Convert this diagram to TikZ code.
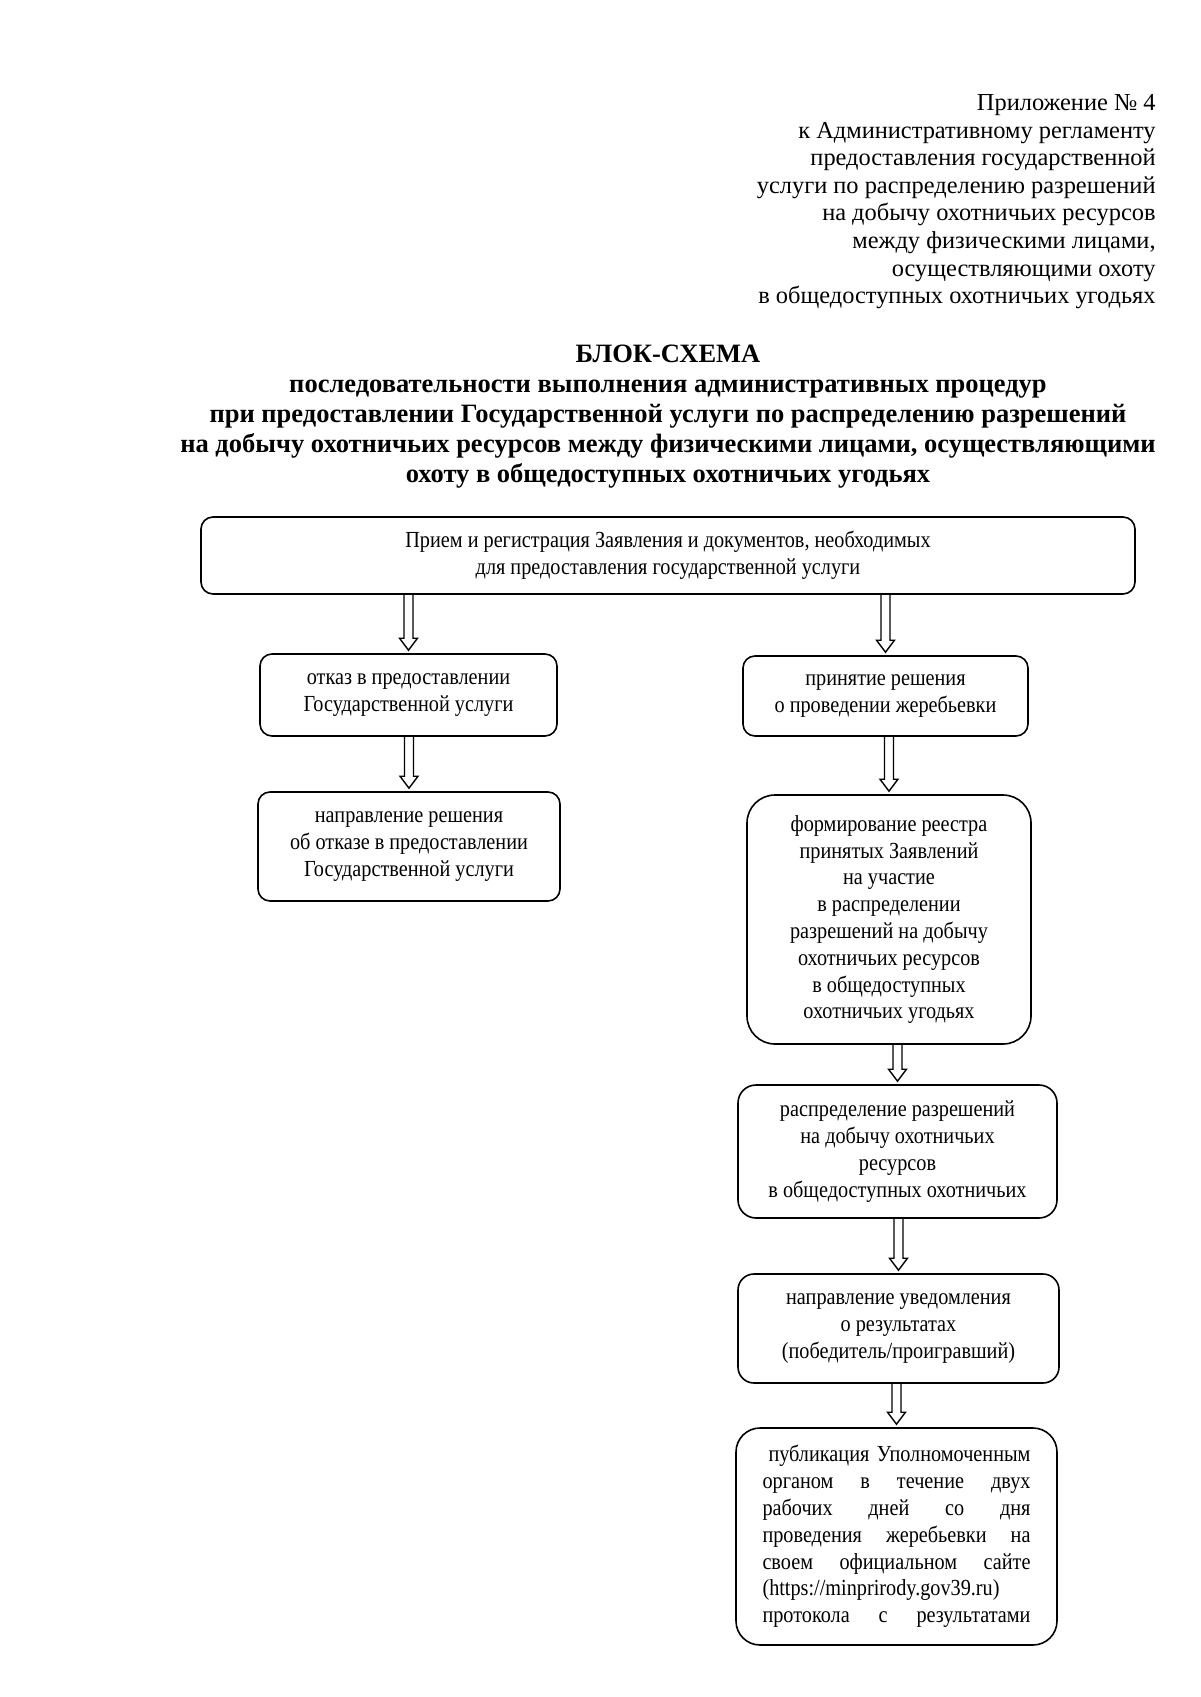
\documentclass[tikz,border=0pt]{standalone}
\usepackage{fontspec}
\setmainfont{Liberation Serif}
\newfontfamily\boxfont[FakeStretch=0.88]{Liberation Serif}
\usetikzlibrary{calc}
\tikzset{
  box/.style={draw, line width=0.8pt, rounded corners=6pt, align=center, inner sep=0pt,
    font=\boxfont\fontsize{11.5}{13.4}\selectfont},
  arr/.style={draw, line width=0.7pt, line join=miter},
  hdr/.style={align=right, inner sep=0pt, font=\fontsize{12.2}{13.8}\selectfont},
  ttl/.style={align=center, inner sep=0pt, font=\bfseries\fontsize{13.25}{15}\selectfont}
}
\newcommand\harrow[2]{\draw[arr] let \p1=(#2.north), \p2=(#1.south) in
  (\x1-2.25pt,\y2) -- (\x1-2.25pt,\y1+7.5pt) -- (\x1-4.5pt,\y1+7.5pt) -- (\x1,\y1+1.5pt)
  -- (\x1+4.5pt,\y1+7.5pt) -- (\x1+2.25pt,\y1+7.5pt) -- (\x1+2.25pt,\y2);}
\begin{document}
\begin{tikzpicture}[x=0.5pt,y=-0.5pt]
\useasboundingbox (0,0) rectangle (1200,1697);
\node[hdr, anchor=north east] (hdr) at (1156,94) {Приложение №~4\\к Административному регламенту\\предоставления государственной\\услуги по распределению разрешений\\на добычу охотничьих ресурсов\\между физическими лицами,\\осуществляющими охоту\\в общедоступных охотничьих угодьях};
\node[ttl, anchor=north] (ttl) at (668,345) {БЛОК-СХЕМА\\последовательности выполнения административных процедур\\при предоставлении Государственной услуги по распределению разрешений\\на добычу охотничьих ресурсов между физическими лицами, осуществляющими\\охоту в общедоступных охотничьих угодьях};

\node[box, minimum width=467pt, minimum height=38.5pt] (b0) at (668,555.5) {Прием и регистрация Заявления и документов, необходимых\\для предоставления государственной услуги};
\node[box, minimum width=148.5pt, minimum height=41pt] (b1) at (408.5,695) {отказ в предоставлении\\Государственной услуги};
\node[box, minimum width=151pt, minimum height=54.5pt] (b2) at (409,846.5) {направление решения\\об отказе в предоставлении\\Государственной услуги};
\node[box, minimum width=142.5pt, minimum height=40pt] (b3) at (885.5,696) {принятие решения\\о проведении жеребьевки};
\node[box, rounded corners=14pt, minimum width=142pt, minimum height=124.5pt] (b4) at (889,919.5) {формирование реестра\\принятых Заявлений\\на участие\\в распределении\\разрешений на добычу\\охотничьих ресурсов\\в общедоступных\\охотничьих угодьях};
\node[box, rounded corners=9pt, minimum width=159.5pt, minimum height=66.5pt] (b5) at (897.5,1151.5) {распределение разрешений\\на добычу охотничьих\\ресурсов\\в общедоступных охотничьих};
\node[box, rounded corners=8pt, minimum width=160.5pt, minimum height=54.5pt] (b6) at (898.5,1328.5) {направление уведомления\\о результатах\\(победитель/проигравший)};
\node[box, rounded corners=12pt, minimum width=160.5pt, minimum height=108.5pt] (b7) at (896.5,1536.5) {\makebox[134pt][s]{\hspace{3pt}публикация Уполномоченным}\\\makebox[134pt][s]{органом в течение двух}\\\makebox[134pt][s]{рабочих дней со дня}\\\makebox[134pt][s]{проведения жеребьевки на}\\\makebox[134pt][s]{своем официальном сайте}\\\makebox[134pt][l]{(https://minprirody.gov39.ru)}\\\makebox[134pt][s]{протокола с результатами}};

\harrow{b0}{b1}
\harrow{b0}{b3}
\harrow{b1}{b2}
\harrow{b3}{b4}
\harrow{b4}{b5}
\harrow{b5}{b6}
\harrow{b6}{b7}
\end{tikzpicture}
\end{document}
